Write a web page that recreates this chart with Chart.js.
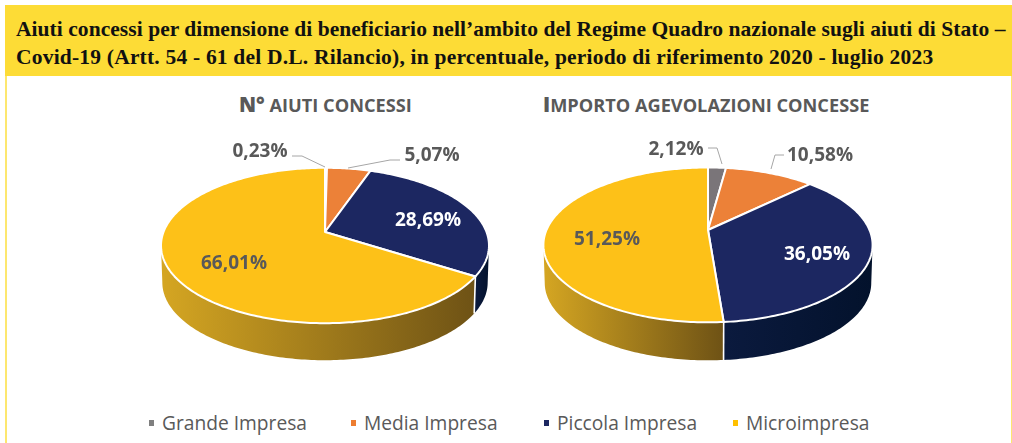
<!DOCTYPE html>
<html lang="it"><head><meta charset="utf-8">
<script src="https://cdn.jsdelivr.net/npm/chart.js@4/dist/chart.umd.js"></script>
<style>
html,body{margin:0;padding:0;background:#fff;overflow:hidden}
#page{position:relative;width:1012px;height:443px;overflow:hidden;background:#fff}
#band{position:absolute;left:5px;top:5px;width:1007px;height:71px;background:#FDDC36}
#lineL{position:absolute;left:5px;top:76px;width:2px;height:367px;background:#FDE76F}
#lineR{position:absolute;left:1011px;top:76px;width:1px;height:367px;background:#FDE76F}
.ttl{position:absolute;left:16px;white-space:nowrap;font:bold 21.5px "Liberation Serif",serif;color:#111;line-height:28px}
.sub{position:absolute;top:92px;white-space:nowrap;font:bold 18.2px "Open Sans",sans-serif;color:#595959;line-height:24px}
.sub b{font-size:20.5px}
canvas{position:absolute}
.lg{position:absolute;top:410px;white-space:nowrap;font:19.2px "Open Sans",sans-serif;color:#595959;line-height:26px}
.mk{position:absolute;top:420px;width:5px;height:6px}
</style></head>
<body><div id="page">
<div id="band"></div><div id="lineL"></div><div id="lineR"></div>
<div class="ttl" id="t1" style="top:15px;letter-spacing:.05px">Aiuti concessi per dimensione di beneficiario nell’ambito del Regime Quadro nazionale sugli aiuti di Stato –</div>
<div class="ttl" id="t2" style="top:43px;letter-spacing:.2px">Covid-19 (Artt. 54 - 61 del D.L. Rilancio), in percentuale, periodo di riferimento 2020 - luglio 2023</div>
<div class="sub" id="s1" style="left:239px"><b>N°</b> AIUTI CONCESSI</div>
<div class="sub" id="s2" style="left:543px"><b>I</b>MPORTO AGEVOLAZIONI CONCESSE</div>
<canvas id="c1" style="left:125px;top:92px"></canvas>
<canvas id="c2" style="left:508px;top:90px"></canvas>
</div>
<script>
const categories = ["Grande Impresa", "Media Impresa", "Piccola Impresa", "Microimpresa"];
const aiutiValues = [0.23, 5.07, 28.69, 66.01];
const importoValues = [2.12, 10.58, 36.05, 51.25];
const sliceColors = ["#7A7579", "#EC8138", "#1C2761", "#FDC118"];
const legendColors = ["#7F7F7F", "#ED7D31", "#1C2761", "#FFC000"];
const sideLeft = ["#6a6a6a", "#b5622a", "#0b1a3e", "#D5A622"];
const sideRight = ["#6a6a6a", "#b5622a", "#03122c", "#6E5215"];

// text anchors for value labels, relative to the pie centre
const labelSpots1 = [
  {dx:-65, dy:-80, col:"#595959", lead:[[-33,-76],[-23,-76],[0,-65]]},
  {dx:107, dy:-76, col:"#595959", lead:[[75,-72],[65,-72],[23,-64]]},
  {dx:103, dy:-11, col:"#ffffff"},
  {dx:-91, dy:32, col:"#595959"}];
const labelSpots2 = [
  {dx:-32, dy:-80, col:"#595959", lead:[[0,-82],[9,-82],[14,-66]]},
  {dx:112, dy:-74, col:"#595959", lead:[[76,-75],[67,-75],[63,-61]]},
  {dx:109, dy:25, col:"#ffffff"},
  {dx:-101, dy:10, col:"#595959"}];

const fmt = v => v.toFixed(2).replace(".", ",") + "%";

function pie3d(spots, tilt, persp, depth){
  return {
    id:"pie3d",
    beforeDatasetDraw(chart){
      const ctx = chart.ctx, meta = chart.getDatasetMeta(0);
      const first = meta.data[0], cx = first.x, cy = first.y, R = first.outerRadius;
      const P = a => {
        const u = Math.cos(a), v = Math.sin(a), w = 1 - persp*v;
        return [cx + R*u/w, cy + R*tilt*v/w];
      };
      const B = p => [cx + (p[0]-cx)*0.992, p[1] + depth];
      const visA = Math.asin(persp), visB = Math.PI - visA;   // widest points of the rim
      // sides
      meta.data.forEach((arc,i) => {
        const a0 = Math.max(arc.startAngle, visA), a1 = Math.min(arc.endAngle, visB);
        if (a1 <= a0) return;
        const top = [], n = Math.max(6, Math.ceil((a1-a0)*60));
        for (let k=0;k<=n;k++) top.push(P(a0+(a1-a0)*k/n));
        const xs = top.map(p=>p[0]);
        const g = ctx.createLinearGradient(Math.max(...xs),0,Math.min(...xs),0);
        g.addColorStop(0, sideRight[i]); g.addColorStop(1, sideLeft[i]);
        ctx.beginPath();
        top.forEach((p,k)=> k?ctx.lineTo(p[0],p[1]):ctx.moveTo(p[0],p[1]));
        top.slice().reverse().forEach(p=>{const b=B(p);ctx.lineTo(b[0],b[1]);});
        ctx.closePath(); ctx.fillStyle=g; ctx.fill();
      });
      // white seams on the side wall
      meta.data.forEach(arc => {
        const a = arc.startAngle;
        if (a>visA && a<visB){
          const p=P(a), b=B(p);
          ctx.beginPath();ctx.moveTo(p[0],p[1]);ctx.lineTo(b[0],b[1]);
          ctx.strokeStyle="#fff";ctx.lineWidth=1.6;ctx.stroke();
        }
      });
      // top faces
      meta.data.forEach((arc,i) => {
        const n = Math.max(4, Math.ceil((arc.endAngle-arc.startAngle)*60));
        ctx.beginPath(); ctx.moveTo(cx,cy);
        for (let k=0;k<=n;k++){const p=P(arc.startAngle+(arc.endAngle-arc.startAngle)*k/n);ctx.lineTo(p[0],p[1]);}
        ctx.closePath();
        ctx.fillStyle=arc.options.backgroundColor; ctx.fill();
        ctx.strokeStyle="#fff"; ctx.lineWidth=2; ctx.lineJoin="round"; ctx.stroke();
      });
      // leaders and labels
      const vals = chart.data.datasets[0].data;
      ctx.textAlign="center"; ctx.textBaseline="middle";
      ctx.font='700 19px "Open Sans", sans-serif';
      spots.forEach((s,i) => {
        if (s.lead){
          ctx.beginPath();
          s.lead.forEach((q,k)=>k?ctx.lineTo(cx+q[0],cy+q[1]):ctx.moveTo(cx+q[0],cy+q[1]));
          ctx.strokeStyle="#A6A6A6";ctx.lineWidth=1;ctx.stroke();
        }
        ctx.fillStyle=s.col;
        ctx.fillText(fmt(vals[i]),cx+s.dx,cy+s.dy);
      });
      return false;
    }
  };
}

function makePie(id, values, spots, tilt, persp, depth){
  new Chart(document.getElementById(id), {
    type:"pie",
    data:{labels:categories, datasets:[{data:values, backgroundColor:sliceColors, borderWidth:0}]},
    options:{responsive:false, animation:false, radius:161.5,
      plugins:{legend:{display:false}, tooltip:{enabled:false}}},
    plugins:[pie3d(spots,tilt,persp,depth)]
  });
}
const c1=document.getElementById("c1"); c1.width=400; c1.height=280;
const c2=document.getElementById("c2"); c2.width=400; c2.height=280;
makePie("c1", aiutiValues, labelSpots1, 0.4667, 0.1736, 37);
makePie("c2", importoValues, labelSpots2, 0.4617, 0.1925, 38);

// legend
const legendX = [149, 351, 544, 733];
const page = document.getElementById("page");
categories.forEach((c,i)=>{
  const m=document.createElement("div"); m.className="mk";
  m.style.left=legendX[i]+"px"; m.style.background=legendColors[i]; page.appendChild(m);
  const t=document.createElement("div"); t.className="lg"; t.textContent=c;
  t.style.left=(legendX[i]+13)+"px"; page.appendChild(t);
});
</script></body></html>
